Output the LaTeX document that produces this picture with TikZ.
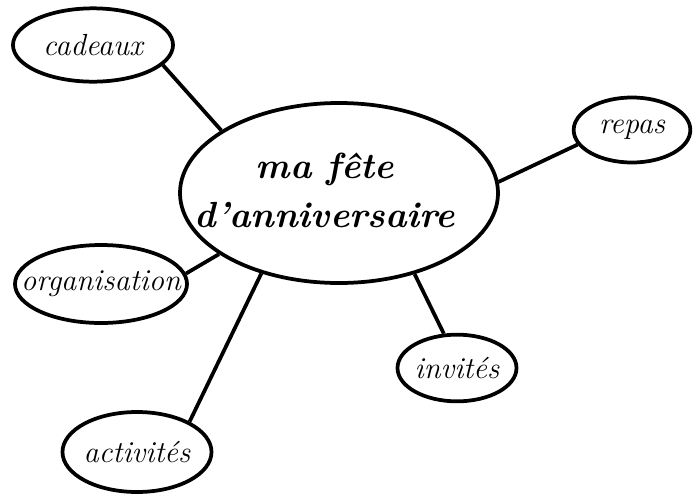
\documentclass[tikz,border=0pt]{standalone}
\usepackage{tikz}
\usetikzlibrary{positioning, shapes, calc}
\newcommand{\bul}[1]{\makebox[0pt]{#1}}

\begin{document}
\begin{tikzpicture}[x=0.03cm,y=-0.03cm, line width=3.2pt, auto,
  bulle/.style={ellipse, draw, inner sep=0pt, font=\fontsize{26}{30}\selectfont\itshape},
  coeur/.style={ellipse, draw, inner sep=0pt, font=\fontsize{31}{42}\selectfont\bfseries\itshape},
  every edge/.style={draw, line width=3.2pt}]
  \useasboundingbox (0,0) rectangle (699,498);
  \node[coeur, minimum width=9.54cm, minimum height=5.4cm] (fete) at (339,193)
    {\bul{\begin{tabular}{@{}c@{}}ma f\^ete\\d'anniversaire\end{tabular}\hspace*{24pt}}};
  \node[bulle, minimum width=4.8cm, minimum height=2.2cm] (cadeaux) at (93,45) {\bul{cadeaux}};
  \node[bulle, minimum width=3.5cm, minimum height=1.95cm] (repas) at (632,130) {\bul{repas}};
  \node[bulle, minimum width=5.16cm, minimum height=2.34cm] (orga) at (101,284) {\bul{organisation}};
  \node[bulle, minimum width=3.57cm, minimum height=2.0cm] (invites) at (457,368) {\bul{invit\'es}};
  \node[bulle, minimum width=4.47cm, minimum height=2.4cm] (activ) at (137,452) {\bul{activit\'es}};
  \path
    (cadeaux.-16) edge (fete.152)
    (repas.-165) edge (fete.4)
    (orga.7) edge (fete.207)
    (activ.30) edge (fete.226)
    (invites.111) edge (fete.-47);
\end{tikzpicture}
\end{document}
